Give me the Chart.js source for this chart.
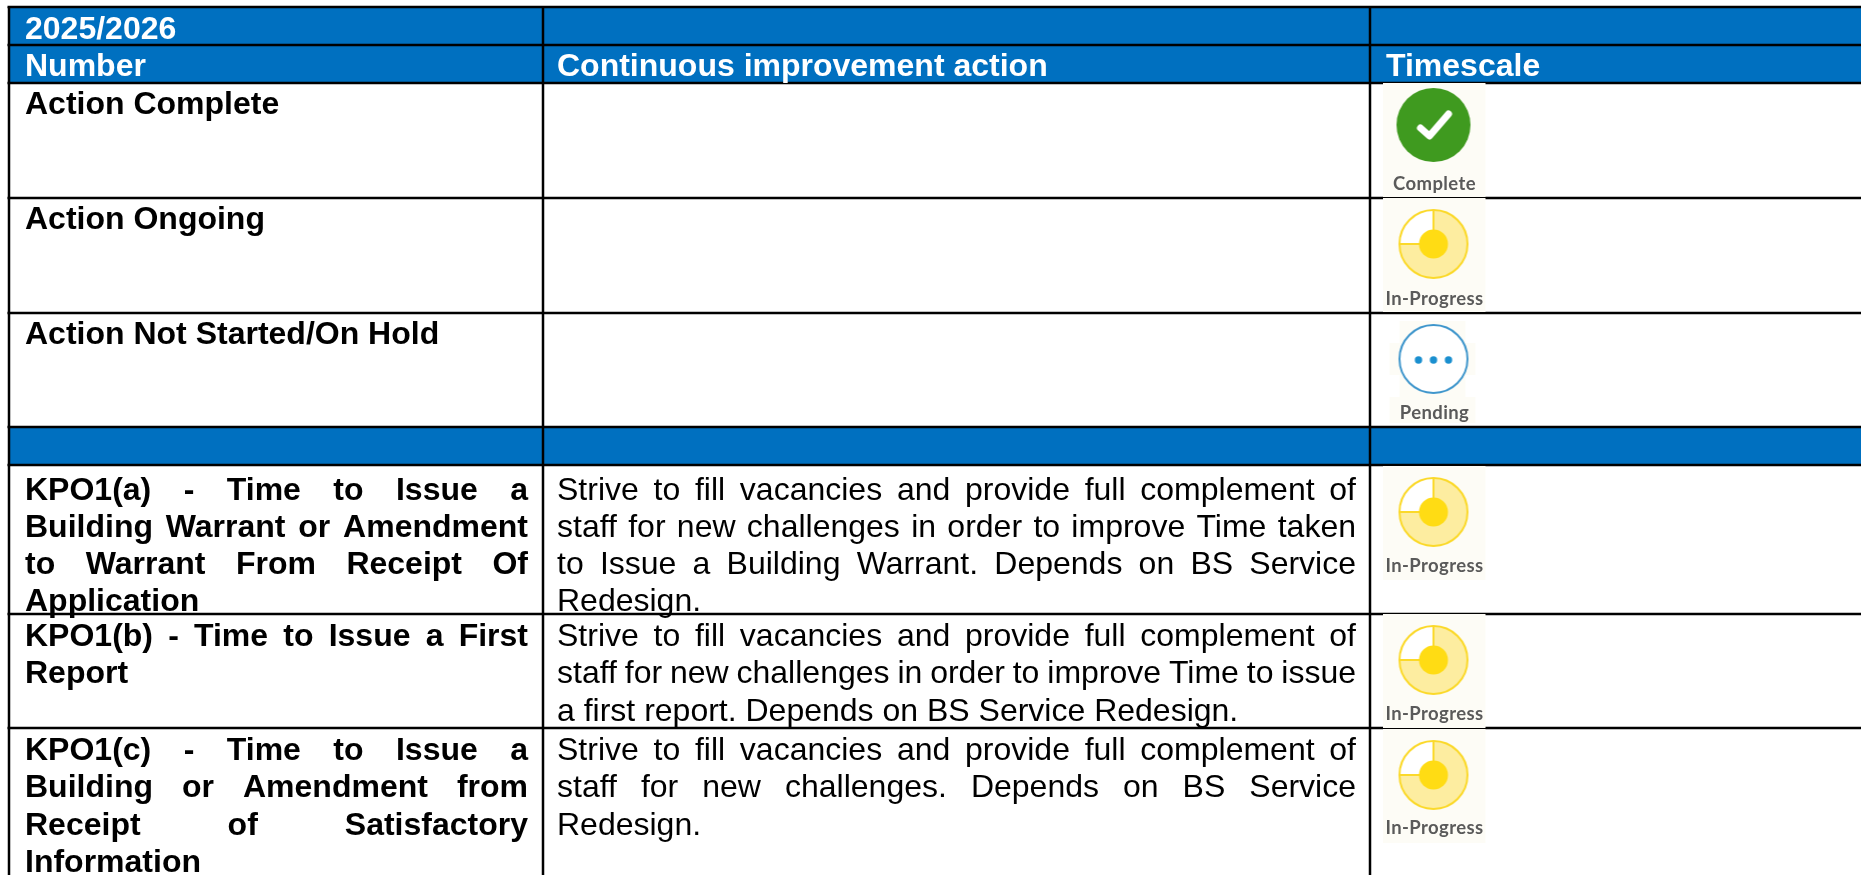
<!DOCTYPE html>
<html>
<head>
<meta charset="utf-8">
<title>Continuous improvement actions 2025/2026</title>
<script src="https://cdn.jsdelivr.net/npm/chart.js@4/dist/chart.umd.min.js"></script>
<style>
  html, body { margin: 0; padding: 0; background: #fff; overflow: hidden; }
  canvas { display: block; }
</style>
</head>
<body>
<canvas id="myChart" width="1861" height="875"></canvas>
<script>
// table content
const yearLabel = "2025/2026"
const columnTitles = ["Number", "Continuous improvement action", "Timescale"]
const keyRows = ["Action Complete", "Action Ongoing", "Action Not Started/On Hold"]
const keyStatus = ["Complete", "In-Progress", "Pending"]
const kpoNames = [
  ["KPO1(a) - Time to Issue a", "Building Warrant or Amendment", "to Warrant From Receipt Of", "Application"],
  ["KPO1(b) - Time to Issue a First", "Report"],
  ["KPO1(c) - Time to Issue a", "Building or Amendment from", "Receipt of Satisfactory", "Information"]
]
const kpoActions = [
  ["Strive to fill vacancies and provide full complement of", "staff for new challenges in order to improve Time taken", "to Issue a Building Warrant. Depends on BS Service", "Redesign."],
  ["Strive to fill vacancies and provide full complement of", "staff for new challenges in order to improve Time to issue", "a first report. Depends on BS Service Redesign."],
  ["Strive to fill vacancies and provide full complement of", "staff for new challenges. Depends on BS Service", "Redesign."]
]
const kpoStatus = ["In-Progress", "In-Progress", "In-Progress"]

// table geometry, in reference pixels
const columnEdges = [9, 543, 1370]
const rowEdges = [7, 45, 83, 198, 313, 427, 465, 614, 728]
const tableRight = 1861
const tableBottom = 875
const bands = [[7, 83], [427, 465]]
const kpoBaselines = [499.5, 646, 760]
const iconCentres = [[1434.5, 140], [1434.5, 255], [1434.5, 370], [1434.5, 523], [1434.5, 671], [1434.5, 786]]
const iconLabelY = [190, 305, 419, 572, 720, 834]

const BLUE = "#0070c0"
const FONT = "'Liberation Sans', Arial, sans-serif"
const LINE = 37.3

function makeIcon(status) {
  const c = document.createElement("canvas")
  c.width = 104
  c.height = 114
  const g = c.getContext("2d")
  const cx = 51, cy = status === "Complete" ? 42 : 46
  g.fillStyle = "#fdfcf6"
  if (status === "Pending") {
    g.fillRect(17, 8, 66, 100)
    g.fillRect(7, 30, 86, 32)
    g.fillRect(7, 84, 86, 26)
  } else {
    g.fillRect(0, 0, 103, 114)
  }
  g.filter = "blur(0.4px)"
  if (status === "Complete") {
    g.fillStyle = "#3f9a1f"
    g.beginPath(); g.arc(cx, cy, 37, 0, Math.PI * 2); g.fill()
    g.strokeStyle = "#fff"
    g.lineWidth = 7
    g.lineCap = "round"
    g.lineJoin = "round"
    g.beginPath(); g.moveTo(cx - 13, cy + 3); g.lineTo(cx - 4, cy + 11); g.lineTo(cx + 15, cy - 11); g.stroke()
  } else if (status === "In-Progress") {
    g.fillStyle = "#fdeda0"
    g.beginPath(); g.arc(cx, cy, 34, 0, Math.PI * 2); g.fill()
    g.fillStyle = "#fff"
    g.beginPath(); g.moveTo(cx, cy); g.arc(cx, cy, 34, Math.PI, Math.PI * 1.5); g.closePath(); g.fill()
    g.strokeStyle = "#fbd92a"
    g.lineWidth = 2
    g.beginPath(); g.moveTo(cx, cy - 34); g.lineTo(cx, cy); g.lineTo(cx - 34, cy); g.stroke()
    g.beginPath(); g.arc(cx, cy, 34, 0, Math.PI * 2); g.stroke()
    g.fillStyle = "#ffdc14"
    g.beginPath(); g.arc(cx, cy, 14.5, 0, Math.PI * 2); g.fill()
  } else {
    g.fillStyle = "#fff"
    g.strokeStyle = "#3f96cc"
    g.lineWidth = 2
    g.beginPath(); g.arc(cx, cy, 34, 0, Math.PI * 2); g.fill(); g.stroke()
    g.fillStyle = "#1a8fcf"
    for (const dx of [-15, 0, 15]) {
      g.beginPath(); g.arc(cx + dx, cy + 1, 3.7, 0, Math.PI * 2); g.fill()
    }
  }
  return c
}

const allStatus = keyStatus.concat(kpoStatus)
const iconFor = {}
for (const s of keyStatus) iconFor[s] = makeIcon(s)

const bandSets = bands.map(([top, bottom]) => ({
  data: [{ x: columnEdges[0], y: top }, { x: tableRight, y: top }],
  showLine: true,
  borderWidth: 0,
  pointRadius: 0,
  backgroundColor: BLUE,
  fill: { value: bottom },
  order: 3
}))

const ruleSets = rowEdges.map(y => ({
  data: [{ x: columnEdges[0] - 1.5, y }, { x: tableRight, y }],
  showLine: true, borderColor: "#000", borderWidth: 2.5, pointRadius: 0, order: 2
})).concat(columnEdges.map(x => ({
  data: [{ x, y: rowEdges[0] }, { x, y: tableBottom }],
  showLine: true, borderColor: "#000", borderWidth: 2.5, pointRadius: 0, order: 2
})))

const iconSet = {
  data: iconCentres.map(([x, y], i) => ({ x, y, status: allStatus[i] })),
  showLine: false,
  pointStyle: allStatus.map(s => iconFor[s]),
  order: 1
}

function drawParagraph(ctx, lines, x, right, firstBaseline) {
  lines.forEach((line, i) => {
    ctx.wordSpacing = "0px"
    if (i < lines.length - 1) {
      const extra = right - x - ctx.measureText(line).width
      ctx.wordSpacing = (extra / (line.split(" ").length - 1)) + "px"
    }
    ctx.fillText(line, x, firstBaseline + i * LINE)
  })
  ctx.wordSpacing = "0px"
}

const tableText = {
  id: "tableText",
  afterDatasetsDraw(chart) {
    const ctx = chart.ctx
    const sx = chart.scales.x, sy = chart.scales.y
    const left = sx.getPixelForValue(25), midLeft = sx.getPixelForValue(557), rightLeft = sx.getPixelForValue(1386)
    const leftEnd = sx.getPixelForValue(528), midEnd = sx.getPixelForValue(1356)
    ctx.save()
    ctx.textBaseline = "alphabetic"
    ctx.textAlign = "left"
    ctx.font = "bold 32px " + FONT
    ctx.fillStyle = "#fff"
    ctx.fillText(yearLabel, left, sy.getPixelForValue(39))
    const heads = [left, midLeft, rightLeft]
    columnTitles.forEach((t, i) => ctx.fillText(t, heads[i], sy.getPixelForValue(76)))
    ctx.fillStyle = "#000"
    keyRows.forEach((t, i) => ctx.fillText(t, left, sy.getPixelForValue(rowEdges[2 + i] + 31)))
    kpoNames.forEach((lines, i) => drawParagraph(ctx, lines, left, leftEnd, sy.getPixelForValue(kpoBaselines[i])))
    ctx.font = "32px " + FONT
    kpoActions.forEach((lines, i) => drawParagraph(ctx, lines, midLeft, midEnd, sy.getPixelForValue(kpoBaselines[i])))
    ctx.font = "700 18.5px Lato, sans-serif"
    ctx.letterSpacing = "0.4px"
    ctx.fillStyle = "#5a5a5a"
    ctx.textAlign = "center"
    allStatus.forEach((s, i) => ctx.fillText(s, sx.getPixelForValue(iconCentres[i][0]), sy.getPixelForValue(iconLabelY[i])))
    ctx.restore()
  }
}

new Chart(document.getElementById("myChart"), {
  type: "scatter",
  data: { datasets: [iconSet, ...ruleSets, ...bandSets] },
  options: {
    responsive: false,
    animation: false,
    events: [],
    layout: { padding: 0, autoPadding: false },
    plugins: { legend: { display: false }, tooltip: { enabled: false } },
    scales: {
      x: { type: "linear", min: 0, max: 1861, display: false },
      y: { type: "linear", min: 0, max: 875, reverse: true, display: false }
    }
  },
  plugins: [tableText]
})
</script>
</body>
</html>
